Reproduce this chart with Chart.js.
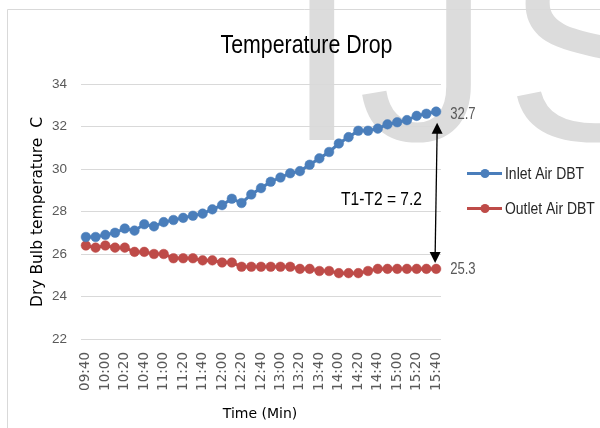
<!DOCTYPE html>
<html><head><meta charset="utf-8">
<script src="https://cdn.jsdelivr.net/npm/chart.js@4.4.1/dist/chart.umd.min.js"></script>
<style>html,body{margin:0;padding:0;background:#fff;overflow:hidden}#wrap{width:600px;height:428px;position:relative}</style>
</head><body><div id="wrap"><canvas id="c" width="600" height="428"></canvas></div>
<script>
const timeLabels = ['09:40','09:50','10:00','10:10','10:20','10:30','10:40','10:50','11:00','11:10','11:20','11:30','11:40','11:50','12:00','12:10','12:20','12:30','12:40','12:50','13:00','13:10','13:20','13:30','13:40','13:50','14:00','14:10','14:20','14:30','14:40','14:50','15:00','15:10','15:20','15:30','15:40'];
const inletDBT = [26.8,26.8,26.9,27.0,27.2,27.1,27.4,27.3,27.5,27.6,27.7,27.8,27.9,28.1,28.3,28.6,28.4,28.8,29.1,29.4,29.6,29.8,29.9,30.2,30.5,30.8,31.2,31.5,31.8,31.8,31.9,32.1,32.2,32.3,32.5,32.6,32.7];
const outletDBT = [26.4,26.3,26.4,26.3,26.3,26.1,26.1,26.0,26.0,25.8,25.8,25.8,25.7,25.7,25.6,25.6,25.4,25.4,25.4,25.4,25.4,25.4,25.3,25.3,25.2,25.2,25.1,25.1,25.1,25.2,25.3,25.3,25.3,25.3,25.3,25.3,25.3];
const seriesNames = ['Inlet Air DBT','Outlet Air DBT'];
const yMin = 22, yMax = 34, yStep = 2;
const chartTitle = 'Temperature Drop';
const yTitle = 'Dry Bulb temperature  C';
const xTitle = 'Time (Min)';
const dropText = 'T1-T2 = 7.2';
const BLUE = '#4A7EBB', RED = '#BE4B48';

function hasFont(name){
  const c = document.createElement('canvas').getContext('2d');
  const t = 'Temperature Drop 0123 Wxyz';
  let diff = false;
  ['monospace','serif'].forEach(f=>{
    c.font = '40px ' + f; const a = c.measureText(t).width;
    c.font = '40px "' + name + '", ' + f; const b = c.measureText(t).width;
    if (Math.abs(a-b) > 0.5) diff = true;
  });
  return diff;
}
const NARROW_OK = hasFont('Liberation Sans Narrow');
const NARROW = NARROW_OK ? '"Liberation Sans Narrow"' : '"Liberation Sans"';
const WIDE = '"DejaVu Sans"';

function narrowText(ctx, text, x, y, size, align, color, base){
  ctx.save();
  ctx.fillStyle = color;
  ctx.textBaseline = base || 'alphabetic';
  ctx.font = size + 'px ' + NARROW;
  if (NARROW_OK) {
    ctx.textAlign = align; ctx.fillText(text, x, y);
  } else {
    ctx.translate(x, y); ctx.scale(0.82, 1);
    ctx.textAlign = align; ctx.fillText(text, 0, 0);
  }
  ctx.restore();
}

const decor = {
  id: 'decor',
  beforeDraw(chart){
    const ctx = chart.ctx;
    ctx.save();
    ctx.fillStyle = '#fff'; ctx.fillRect(0,0,chart.width,chart.height);
    // watermark
    ctx.fillStyle = '#dcdcdc';
    ctx.font = '265px "Liberation Sans"';
    ctx.textBaseline = 'alphabetic'; ctx.textAlign = 'left';
    ctx.fillText('I', 285, 140);
    ctx.fillText('J', 358, 140);
    ctx.fillText('S', 505, 140);
    // chart border
    ctx.strokeStyle = '#d9d9d9'; ctx.lineWidth = 1;
    ctx.beginPath(); ctx.moveTo(7.5, 440); ctx.lineTo(7.5, 9.5); ctx.lineTo(620, 9.5); ctx.stroke();
    ctx.restore();
  },
  afterDatasetsDraw(chart){
    const ctx = chart.ctx;
    const m0 = chart.getDatasetMeta(0).data, m1 = chart.getDatasetMeta(1).data;
    const p0 = m0[m0.length-1], p1 = m1[m1.length-1];
    // end labels
    narrowText(ctx, String(inletDBT[inletDBT.length-1]), p0.x + 14, p0.y + 7, 16, 'left', '#595959');
    narrowText(ctx, String(outletDBT[outletDBT.length-1]), p1.x + 14, p1.y + 5, 16, 'left', '#595959');
    // double arrow
    const xt = p0.x + 1, yt = p0.y + 11, xb = p1.x - 1, yb = p1.y - 6;
    ctx.save();
    ctx.strokeStyle = '#000'; ctx.fillStyle = '#000'; ctx.lineWidth = 1.3;
    ctx.beginPath(); ctx.moveTo(xt, yt + 8); ctx.lineTo(xb, yb - 8); ctx.stroke();
    ctx.beginPath(); ctx.moveTo(xt, yt); ctx.lineTo(xt - 5.5, yt + 11); ctx.lineTo(xt + 5.5, yt + 11); ctx.closePath(); ctx.fill();
    ctx.beginPath(); ctx.moveTo(xb, yb); ctx.lineTo(xb - 5.5, yb - 11); ctx.lineTo(xb + 5.5, yb - 11); ctx.closePath(); ctx.fill();
    ctx.restore();
    narrowText(ctx, dropText, 341, 205, 19, 'left', '#000');
    // legend
    const items = [[seriesNames[0], BLUE, 173.5, 178.5],[seriesNames[1], RED, 208.5, 213.5]];
    items.forEach(([name, col, ly, by])=>{
      ctx.save();
      ctx.strokeStyle = col; ctx.lineWidth = 3.2;
      ctx.beginPath(); ctx.moveTo(467, ly); ctx.lineTo(502, ly); ctx.stroke();
      ctx.fillStyle = col; ctx.beginPath(); ctx.arc(485, ly, 4.5, 0, Math.PI*2); ctx.fill();
      ctx.restore();
      narrowText(ctx, name, 505, by, 17, 'left', '#262626');
    });
  },
  afterDraw(chart){
    const ctx = chart.ctx;
    narrowText(ctx, chartTitle, 306.5, 53, 26, 'center', '#000');
    ctx.save();
    ctx.fillStyle = '#000';
    ctx.font = '15.5px ' + WIDE;
    ctx.textAlign = 'center'; ctx.textBaseline = 'middle';
    ctx.translate(38, 212); ctx.rotate(-Math.PI/2);
    ctx.fillText(yTitle, 0, 0);
    ctx.restore();
    ctx.save();
    ctx.fillStyle = '#000';
    ctx.font = '14px ' + WIDE;
    ctx.textAlign = 'center'; ctx.textBaseline = 'alphabetic';
    ctx.fillText(xTitle, 260, 417.5);
    ctx.restore();
  }
};

new Chart(document.getElementById('c'), {
  type: 'line',
  data: {
    labels: timeLabels,
    datasets: [
      { label: seriesNames[0], data: inletDBT, borderColor: BLUE, backgroundColor: BLUE, borderWidth: 3,
        pointRadius: 4.8, pointBorderWidth: 0.5, pointBackgroundColor: BLUE, pointBorderColor: BLUE, tension: 0, fill: false },
      { label: seriesNames[1], data: outletDBT, borderColor: RED, backgroundColor: RED, borderWidth: 3,
        pointRadius: 4.8, pointBorderWidth: 0.5, pointBackgroundColor: RED, pointBorderColor: RED, tension: 0, fill: false }
    ]
  },
  options: {
    responsive: false, animation: false, devicePixelRatio: 1,
    layout: { padding: { top: 84, right: 159, left: 0, bottom: 0 } },
    plugins: { legend: { display: false }, title: { display: false }, tooltip: { enabled: false } },
    scales: {
      x: {
        type: 'category', offset: true,
        grid: { display: false, drawTicks: false }, border: { display: false },
        ticks: { autoSkip: false, maxRotation: 90, minRotation: 90, padding: 13, color: '#595959',
          font: { family: 'DejaVu Sans', size: 13.5 },
          callback: (v, i) => (i % 2 === 0 ? timeLabels[i] : '') },
        afterFit: s => { s.height = 89; }
      },
      y: {
        min: yMin, max: yMax,
        grid: { color: '#d9d9d9', drawTicks: false, lineWidth: 1 }, border: { display: false },
        ticks: { stepSize: yStep, padding: 14, color: '#595959',
          font: { family: NARROW_OK ? 'Liberation Sans Narrow' : 'Liberation Sans', size: NARROW_OK ? 16 : 13.5 } },
        afterFit: s => { s.width = 81; }
      }
    }
  },
  plugins: [decor]
});
</script>
</body></html>
